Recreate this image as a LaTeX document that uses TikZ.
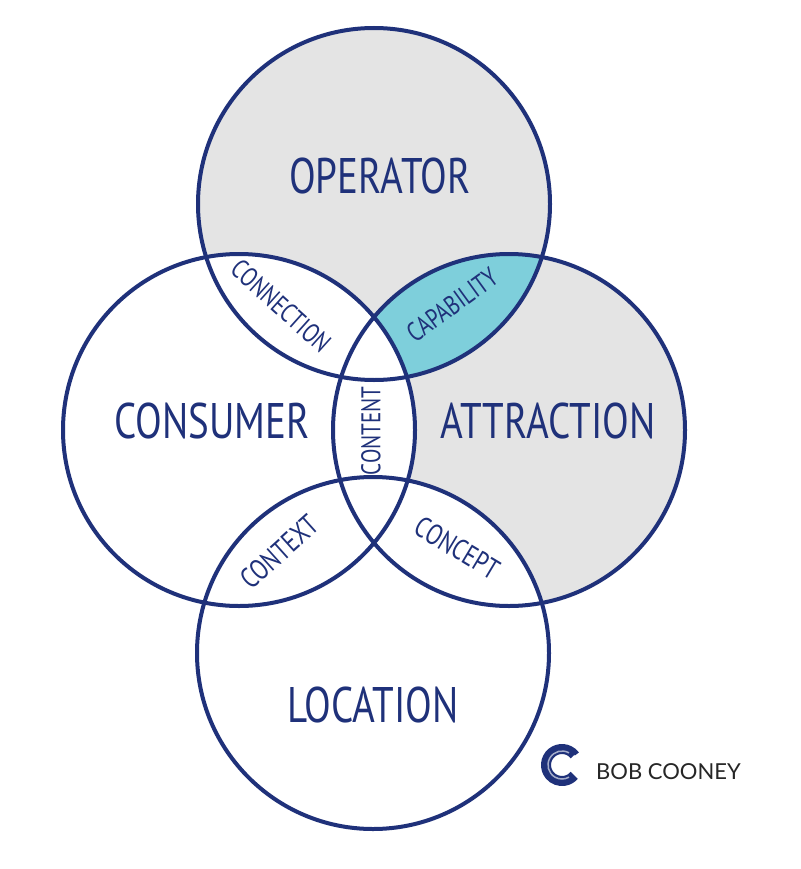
\documentclass[tikz,border=0pt]{standalone}
\usepackage{fontspec}
\usepackage{xcolor}
\usepackage{tikz}
\usetikzlibrary{calc}
\newfontfamily\hand[FakeStretch=0.78]{PT Sans}
\newfontfamily\logofont{Lato}

\begin{document}
\begin{tikzpicture}[
    x=1pt,y=-1pt,
    circle line/.style={draw=outline,line width=4pt},
    big label/.style={text=outline,inner sep=0pt,font=\hand\fontsize{50}{50}\selectfont},
    small label/.style={text=outline,inner sep=0pt,font=\hand\fontsize{27}{27}\selectfont}
  ]
  \definecolor{outline}{RGB}{31,49,122}
  \definecolor{greyfill}{RGB}{228,228,228}
  \definecolor{lensfill}{RGB}{126,207,219}
  \def\R{176pt}
  \fill[white] (0,0) rectangle (800,869);
  \useasboundingbox (0,0) rectangle (800,869);
  \coordinate (O) at (374,204);
  \coordinate (C) at (239,430);
  \coordinate (A) at (509,430);
  \coordinate (L) at (373,653);
  % grey circles, then the blue lens, then the white ones on top
  \fill[greyfill] (O) circle (\R);
  \fill[greyfill] (A) circle (\R);
  \begin{scope}
    \clip (O) circle (\R);
    \fill[lensfill] (A) circle (\R);
  \end{scope}
  \fill[white] (C) circle (\R);
  \fill[white] (L) circle (\R);
  \foreach \point in {O,C,A,L}
  \draw[circle line] (\point) circle (\R);
  % names of the circles
  \node[big label] (operator) at (380,176) {OPERATOR};
  \node[big label] (consumer) at (212,421) {CONSUMER};
  \node[big label] (attraction) at (548,421) {ATTRACTION};
  \node[big label] (location) at (373,705) {LOCATION};
  % names of the overlaps
  \node[small label,rotate=-42] (connection) at (281,306) {CONNECTION};
  \node[small label,rotate=36] (capability) at (452,305) {CAPABILITY};
  \node[small label,rotate=90] (content) at (371,431) {CONTENT};
  \node[small label,rotate=42,font=\hand\fontsize{29}{29}\selectfont] (context) at (279,552) {CONTEXT};
  \node[small label,rotate=-31,font=\hand\fontsize{29}{29}\selectfont] (concept) at (457,548) {CONCEPT};
  % logo
  \coordinate (logo) at (562,765);
  \draw[outline,line width=10pt] ($(logo)+(40:16pt)$) arc[start angle=40,end angle=320,radius=16pt];
  \draw[outline!40,line width=1.5pt] ($(logo)+(60:14pt)$) arc[start angle=60,end angle=300,radius=14pt];
  \draw[outline,line width=2pt] ($(logo)+(40:16pt)$) -- ++(4pt,3pt);
  \node[anchor=west,inner sep=0pt,text=black!85,font=\logofont\fontsize{22}{22}\selectfont] (name) at (596,772) {BOB COONEY};
\end{tikzpicture}
\end{document}
